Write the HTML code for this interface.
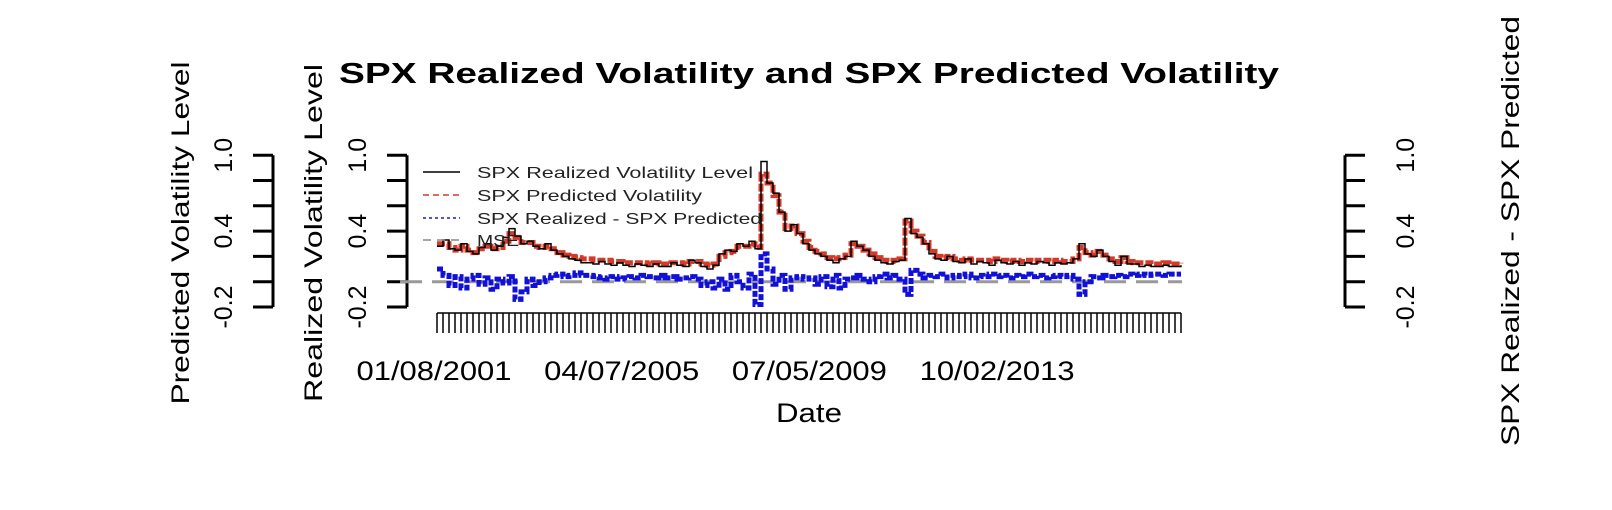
<!DOCTYPE html>
<html><head><meta charset="utf-8"><style>
html,body{margin:0;padding:0;background:#fff;}
svg{display:block;font-family:"Liberation Sans",Arial,sans-serif;}
</style></head><body>
<svg id="chart" width="1612" height="510" viewBox="0 0 1612 510" xmlns="http://www.w3.org/2000/svg">
<rect width="1612" height="510" fill="#fff"/>
<text x="339" y="83" font-size="29" font-weight="bold" textLength="940" lengthAdjust="spacingAndGlyphs">SPX Realized Volatility and  SPX Predicted Volatility</text>
<text transform="translate(189,233) rotate(-90)" font-size="25" text-anchor="middle" textLength="343" lengthAdjust="spacingAndGlyphs">Predicted Volatility Level</text>
<text transform="translate(322,233) rotate(-90)" font-size="25" text-anchor="middle" textLength="338" lengthAdjust="spacingAndGlyphs">Realized Volatility Level</text>
<text transform="translate(1519,231) rotate(-90)" font-size="25" text-anchor="middle" textLength="430" lengthAdjust="spacingAndGlyphs">SPX Realized - SPX Predicted</text>
<text x="809" y="422" font-size="27" text-anchor="middle" textLength="66" lengthAdjust="spacingAndGlyphs">Date</text>
<g id="axes"></g>
<g id="series"></g>
<g id="legend">
  <line x1="423" y1="172" x2="460" y2="172" stroke="#000" stroke-width="1.5"/>
  <line x1="423" y1="195" x2="460" y2="195" stroke="#d43a2a" stroke-width="1.5" stroke-dasharray="6 4"/>
  <line x1="423" y1="218" x2="460" y2="218" stroke="#1a1ad0" stroke-width="1.5" stroke-dasharray="3 3"/>
  <line x1="423" y1="240" x2="460" y2="240" stroke="#888" stroke-width="1.5" stroke-dasharray="8 6"/>
  <text x="477" y="178" font-size="16" fill="#222" textLength="276" lengthAdjust="spacingAndGlyphs">SPX Realized Volatility Level</text>
  <text x="477" y="201" font-size="16" fill="#222" textLength="225" lengthAdjust="spacingAndGlyphs">SPX Predicted Volatility</text>
  <text x="477" y="224" font-size="16" fill="#222" textLength="285" lengthAdjust="spacingAndGlyphs">SPX Realized - SPX Predicted</text>
  <text x="477" y="246" font-size="16" fill="#222" textLength="42" lengthAdjust="spacingAndGlyphs">MSE</text>
</g>
</svg>
<script>
const realized = [0.28,0.33,0.26,0.25,0.3,0.24,0.22,0.27,0.3,0.25,0.28,0.35,
0.42,0.36,0.3,0.32,0.28,0.26,0.3,
0.25,0.22,0.2,0.18,0.17,0.15,0.15,0.14,0.16,
0.14,0.13,0.15,0.13,0.12,0.14,0.13,0.12,0.14,0.12,0.12,0.15,0.13,0.12,0.17,0.15,0.12,0.1,0.13,0.22,0.25,0.24,0.3,
0.28,0.32,0.26,
0.95,0.78,0.7,0.55,0.4,0.45,0.38,0.3,0.25,0.22,0.2,0.17,0.15,0.18,0.2,
0.32,0.28,0.25,0.2,0.17,0.15,0.14,0.16,0.17,
0.5,0.38,0.35,0.3,0.22,0.18,0.17,0.2,
0.16,0.15,0.18,0.14,0.16,0.15,0.13,0.17,0.15,0.14,0.16,0.13,0.15,0.14,0.16,0.15,0.13,0.15,0.14,0.15,
0.18,0.3,0.22,0.2,0.25,0.2,0.16,0.13,0.2,0.14,
0.14,0.12,0.13,0.12,0.12,0.13,0.12,0.12,0.13];
const predicted = [0.3,0.3,0.27,0.25,0.28,0.25,0.23,0.26,0.28,0.26,0.27,0.32,
0.38,0.35,0.31,0.31,0.28,0.27,0.28,
0.26,0.23,0.21,0.2,0.19,0.18,0.18,0.17,0.17,
0.17,0.16,0.16,0.15,0.15,0.15,0.15,0.14,0.15,0.14,0.14,0.15,0.15,0.14,0.16,0.16,0.14,0.13,0.14,0.2,0.23,0.24,0.28,
0.28,0.3,0.27,
0.85,0.78,0.68,0.55,0.42,0.44,0.38,0.32,0.27,0.24,0.22,0.19,0.18,0.19,0.21,
0.3,0.28,0.25,0.22,0.19,0.17,0.16,0.17,0.18,
0.48,0.4,0.36,0.31,0.24,0.2,0.19,0.2,
0.18,0.17,0.18,0.17,0.17,0.17,0.16,0.18,0.17,0.16,0.17,0.16,0.17,0.16,0.17,0.17,0.16,0.17,0.16,0.16,
0.18,0.27,0.23,0.21,0.24,0.21,0.18,0.16,0.19,0.16,
0.15,0.15,0.15,0.14,0.14,0.15,0.14,0.14,0.15];
const difference = [0.1,0.05,-0.03,0.04,-0.05,0.02,0.05,-0.02,0.03,-0.06,0.02,-0.01,
0.04,-0.14,-0.08,0.02,-0.03,0.0,0.03,
0.05,0.06,0.04,0.05,0.07,0.05,0.05,0.04,0.03,
0.02,0.04,0.02,0.03,0.04,0.03,0.05,0.04,0.03,0.05,0.03,0.04,0.02,0.03,0.04,0.02,-0.03,0.0,-0.05,0.02,-0.06,0.05,0.0,
-0.05,0.06,-0.18,
0.22,0.1,-0.02,0.05,-0.06,0.03,0.04,0.02,0.03,-0.02,0.04,-0.04,0.05,-0.05,0.02,
0.03,0.05,0.02,0.0,0.04,0.06,0.03,0.05,0.02,
-0.1,0.09,0.06,0.03,0.05,0.04,0.06,0.03,
0.05,0.04,0.06,0.03,0.05,0.04,0.06,0.04,0.05,0.03,0.05,0.04,0.06,0.04,0.05,0.03,0.04,0.05,0.04,0.05,
0.02,-0.1,0.0,0.04,0.03,0.05,0.04,0.05,0.04,0.06,
0.05,0.06,0.05,0.06,0.06,0.05,0.06,0.06,0.06];
const mse = [0.0];
const yTicks = [-0.2,0,0.2,0.4,0.6,0.8,1.0];
const yTickLabels = ["-0.2","","","0.4","","","1.0"];
const dateLabels = ["01/08/2001","04/07/2005","07/05/2009","10/02/2013"];
const dateLabelIndex = [0,1,2,3];
const nDateTicks = 125;

const NS="http://www.w3.org/2000/svg";
const axes=document.getElementById('axes'), series=document.getElementById('series');
const X0=437, X1=1181, Y0=281.7, PER=126.5;
function sx(i,n){return X0+(X1-X0)*i/(n-1);}
function sy(v){return Y0-v*PER;}
function mk(tag,attrs,parent){const e=document.createElementNS(NS,tag);for(const k in attrs)e.setAttribute(k,attrs[k]);parent.appendChild(e);return e;}

function yAxis(spineX,dir,labelX,name){
  const g=mk('g',{},axes);
  
  
  mk('line',{x1:spineX,y1:sy(yTicks[0]),x2:spineX,y2:sy(yTicks[yTicks.length-1]),stroke:'#000','stroke-width':3},g);
  yTicks.forEach((t,k)=>{
    mk('line',{x1:spineX,y1:sy(t),x2:spineX+dir*20,y2:sy(t),stroke:'#000','stroke-width':3},g);
    if(yTickLabels[k]){
      const tx=mk('text',{transform:`translate(${labelX},${sy(t)}) rotate(-90)`,'font-size':25,'text-anchor':'middle'},g);
      
      
      tx.textContent=yTickLabels[k];
    }
  });
}
yAxis(273,-1,232,'predicted-y-axis');
yAxis(407,-1,366,'realized-y-axis');
yAxis(1345,1,1414,'difference-y-axis');

const xg=mk('g',{},axes);


mk('line',{x1:X0,y1:313,x2:X1,y2:313,stroke:'#000','stroke-width':1.5},xg);
for(let i=0;i<nDateTicks;i++){
  const x=X0+(X1-X0)*i/(nDateTicks-1);
  mk('line',{x1:x,y1:313,x2:x,y2:333,stroke:'#000','stroke-width':1.5},xg);
}
dateLabels.forEach((d,k)=>{
  const t=mk('text',{x:434+dateLabelIndex[k]*187.7,y:380,'font-size':27,'text-anchor':'middle',textLength:155,lengthAdjust:'spacingAndGlyphs'},xg);
  
  
  t.textContent=d;
});

let prevY=0;
function stepPath(arr){
  let d='';
  arr.forEach((v,i)=>{const x=sx(i,arr.length),y=sy(v);d+=(i?`L${x},${prevY}L${x},${y}`:`M${x},${y}`);prevY=y;});
  return d;
}
const mseLine=mk('line',{x1:400,y1:sy(mse[0]),x2:1182,y2:sy(mse[0]),stroke:'#999','stroke-width':3,'stroke-dasharray':'22 10'},series);


const pd=mk('path',{d:stepPath(difference),fill:'none',stroke:'#1010d8','stroke-width':5,'stroke-dasharray':'6 2'},series);


const pp=mk('path',{d:stepPath(predicted),fill:'none',stroke:'#d43a2a','stroke-width':5,'stroke-dasharray':'8 2'},series);


const pr=mk('path',{d:stepPath(realized),fill:'none',stroke:'#000','stroke-width':1.5},series);


</script>
</body></html>
